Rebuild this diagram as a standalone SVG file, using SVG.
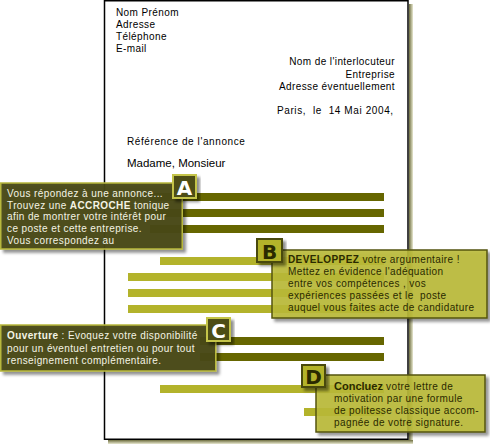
<svg xmlns="http://www.w3.org/2000/svg" width="490" height="446" viewBox="0 0 490 446">
<style>
  text { font-family: "Liberation Sans", Arial, sans-serif; font-size: 10px; letter-spacing: 0.4px; white-space: pre; }
  .hd { fill: #000; }
  .dark { fill: #666600; }
  .light { fill: #b3b32b; }
  .boxD { fill: #4a4a16; fill-opacity: 0.95; stroke: #b8b83c; stroke-width: 1.5; }
  .boxL { fill: #bcbc38; fill-opacity: 0.88; stroke: #55550f; stroke-width: 1.5; }
  .tw { fill: #f4f4e4; }
  .tk { fill: #2a2a00; }
  .bgD { fill: #4d4d15; stroke: #c4c44a; stroke-width: 2; }
  .bgL { fill: #b3b32b; stroke: #4a4a10; stroke-width: 2; }
  .letter { font-family: "DejaVu Sans", Verdana, sans-serif; font-weight: bold; font-size: 20px; letter-spacing: 0; text-anchor: middle; }
  .b { font-weight: bold; }
</style>
<defs>
  <filter id="sh" x="-10%" y="-10%" width="130%" height="140%">
    <feDropShadow dx="3" dy="3" stdDeviation="1.5" flood-color="#000" flood-opacity="0.45"/>
  </filter>
  <linearGradient id="shR" x1="0" y1="0" x2="1" y2="0">
    <stop offset="0" stop-color="#6e6e40"/>
    <stop offset="1" stop-color="#e8e8d0"/>
  </linearGradient>
  <linearGradient id="shB" x1="0" y1="0" x2="0" y2="1">
    <stop offset="0" stop-color="#6e6e40"/>
    <stop offset="1" stop-color="#e8e8d0"/>
  </linearGradient>
</defs>
<rect width="490" height="446" fill="#fff"/>

<g id="page">
  <rect x="409" y="4" width="4" height="439" fill="url(#shR)"/>
  <rect x="108" y="440" width="305" height="4" fill="url(#shB)"/>
  <rect x="104.5" y="0.75" width="303.5" height="438.5" fill="#fff" stroke="#000" stroke-width="1.5"/>
  <text class="hd" x="116" y="16">Nom Prénom</text>
  <text class="hd" x="116" y="28">Adresse</text>
  <text class="hd" x="116" y="40">Téléphone</text>
  <text class="hd" x="116" y="52">E-mail</text>
  <text class="hd" x="395" y="65" text-anchor="end">Nom de l'interlocuteur</text>
  <text class="hd" x="395" y="77.5" text-anchor="end">Entreprise</text>
  <text class="hd" x="395" y="90" text-anchor="end">Adresse éventuellement</text>
  <text class="hd" x="277" y="114" style="letter-spacing:0.6px">Paris,  le  14 Mai 2004,</text>
  <text class="hd" x="127" y="145" style="letter-spacing:0.6px">Référence de l'annonce</text>
  <text class="hd" x="127" y="166.5" style="font-size:11.5px;letter-spacing:0">Madame, Monsieur</text>
</g>

<g id="connectors">
  <rect class="dark" x="150" y="193" width="234" height="8"/>
  <rect class="dark" x="150" y="209" width="234" height="8"/>
  <rect class="dark" x="150" y="225" width="234" height="8"/>
  <rect class="light" x="160" y="257" width="224" height="8"/>
  <rect class="light" x="128" y="273" width="256" height="8"/>
  <rect class="light" x="128" y="289" width="256" height="8"/>
  <rect class="light" x="128" y="305" width="256" height="8"/>
  <rect class="dark" x="200" y="337" width="184" height="8"/>
  <rect class="dark" x="200" y="353" width="184" height="8"/>
  <rect class="light" x="160" y="385" width="224" height="8"/>
  <rect class="light" x="304" y="408" width="80" height="8"/>
</g>

<g id="nodeA">
  <rect class="boxD" x="0.75" y="183" width="181.5" height="66" filter="url(#sh)"/>
  <text class="tw" x="7" y="197">Vous répondez à une annonce...</text>
  <text class="tw" x="7" y="208.5">Trouvez une <tspan class="b">ACCROCHE</tspan> tonique</text>
  <text class="tw" x="7" y="220">afin de montrer votre intérêt pour</text>
  <text class="tw" x="7" y="232">ce poste et cette entreprise.</text>
  <text class="tw" x="7" y="243.5">Vous correspondez au</text>
  <rect class="bgD" x="173" y="175" width="23" height="23" filter="url(#sh)"/>
  <text class="letter" x="184.5" y="194.5" fill="#fff">A</text>
</g>

<g id="nodeB">
  <rect class="boxL" x="272" y="250" width="215" height="68" filter="url(#sh)"/>
  <text class="tk" x="288" y="263"><tspan class="b">DEVELOPPEZ</tspan> votre argumentaire !</text>
  <text class="tk" x="288" y="275">Mettez en évidence l'adéquation</text>
  <text class="tk" x="288" y="286.5">entre vos compétences , vos</text>
  <text class="tk" x="288" y="298.5">expériences passées et le  poste</text>
  <text class="tk" x="288" y="310.5">auquel vous faites acte de candidature</text>
  <rect class="bgL" x="257" y="239" width="25" height="23" filter="url(#sh)"/>
  <text class="letter" x="269.5" y="258.5" fill="#2a2a00">B</text>
</g>

<g id="nodeC">
  <rect class="boxD" x="0.75" y="325" width="215" height="46" filter="url(#sh)"/>
  <text class="tw" x="7" y="338.5"><tspan class="b">Ouverture</tspan> : Evoquez votre disponibilité</text>
  <text class="tw" x="7" y="351.5">pour un éventuel entretien ou pour tout</text>
  <text class="tw" x="7" y="364">renseignement complémentaire.</text>
  <rect class="bgD" x="207" y="318" width="23" height="23" filter="url(#sh)"/>
  <text class="letter" x="218.5" y="337.5" fill="#fff">C</text>
</g>

<g id="nodeD">
  <rect class="boxL" x="316" y="375" width="169" height="57" filter="url(#sh)"/>
  <text class="tk" x="334" y="389.5"><tspan class="b" style="font-size:11px;letter-spacing:0">Concluez</tspan> votre lettre de</text>
  <text class="tk" x="334" y="401.5">motivation par une formule</text>
  <text class="tk" x="334" y="414">de politesse classique accom-</text>
  <text class="tk" x="334" y="425.5">pagnée de votre signature.</text>
  <rect class="bgL" x="302" y="365" width="23" height="22" filter="url(#sh)"/>
  <text class="letter" x="313.5" y="384" fill="#2a2a00">D</text>
</g>
</svg>
